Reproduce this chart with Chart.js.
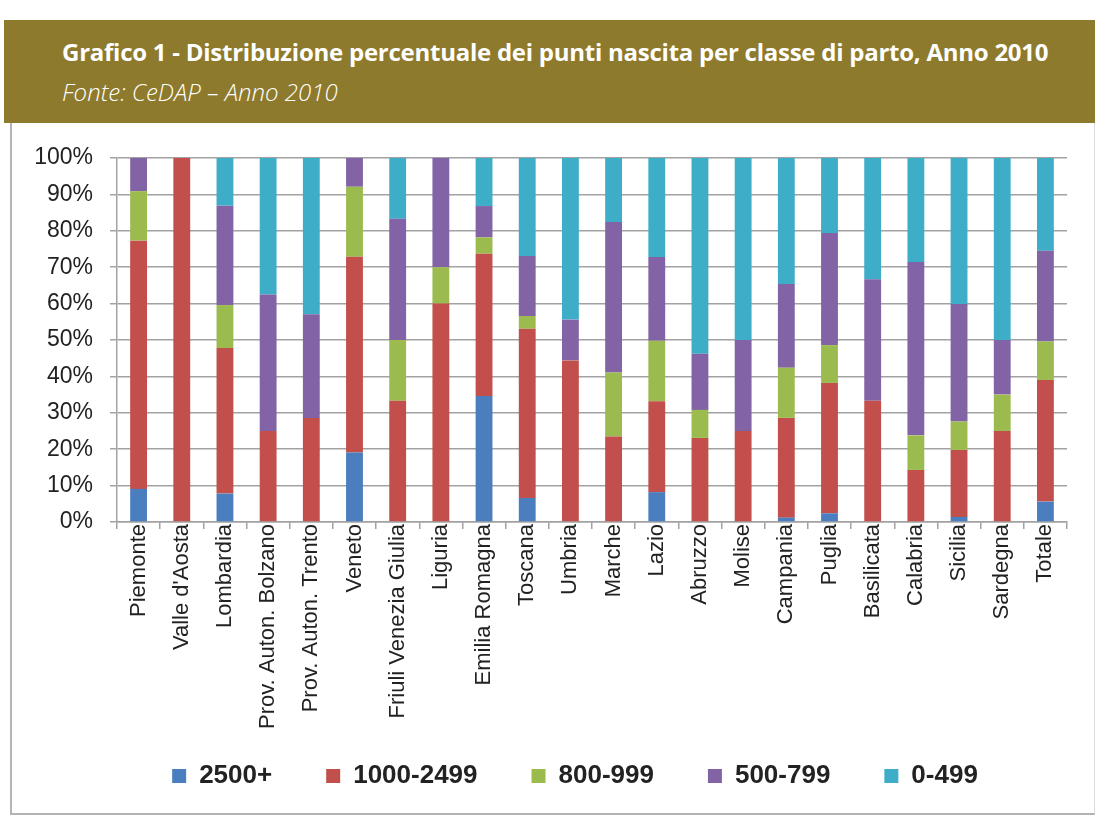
<!DOCTYPE html>
<html>
<head>
<meta charset="utf-8">
<script src="https://cdn.jsdelivr.net/npm/chart.js@4"></script>
<style>
    body { margin: 0; background: #fff; }
    #wrap { position: relative; width: 1095px; height: 817px; overflow: hidden; }
    #header { position: absolute; left: 4px; top: 20px; width: 1091px; height: 103px; background: #8E7A2C; color: #fff; }
    #title { position: absolute; left: 58px; top: 15px; font-family: "Open Sans", sans-serif; font-weight: 700; font-size: 24px; white-space: nowrap; letter-spacing: -0.25px; }
    #subtitle { position: absolute; left: 58px; top: 55px; font-family: "Open Sans", sans-serif; font-style: italic; font-weight: 300; font-size: 24px; white-space: nowrap; }
    #box { position: absolute; left: 10px; top: 123px; width: 1082px; height: 690px; border-left: 2px solid #b4b4b4; border-right: 1px solid #dcdcdc; border-bottom: 2px solid #b4b4b4; }
    #chart { position: absolute; left: 0; top: 0; }
</style>
</head>
<body>
<div id="wrap">
    <div id="header">
        <div id="title">Grafico 1 - Distribuzione percentuale dei punti nascita per classe di parto, Anno 2010</div>
        <div id="subtitle">Fonte: CeDAP – Anno 2010</div>
    </div>
    <div id="box"></div>
    <canvas id="chart" width="1095" height="817"></canvas>
</div>
<script>
const regions = ['Piemonte', "Valle d'Aosta", 'Lombardia', 'Prov. Auton. Bolzano', 'Prov. Auton. Trento',
    'Veneto', 'Friuli Venezia Giulia', 'Liguria', 'Emilia Romagna', 'Toscana', 'Umbria', 'Marche',
    'Lazio', 'Abruzzo', 'Molise', 'Campania', 'Puglia', 'Basilicata', 'Calabria', 'Sicilia',
    'Sardegna', 'Totale'];

// percent of birth points per class
const over2500 = [9.1, 0, 7.8, 0, 0, 19.1, 0, 0, 34.6, 6.6, 0, 0, 8.2, 0, 0, 1.2, 2.4, 0, 0, 1.4, 0, 5.6];
const from1000 = [68.2, 100, 40.0, 25.0, 28.6, 53.8, 33.3, 60.0, 39.1, 46.5, 44.4, 23.5, 25.0, 23.1, 25.0, 27.4, 35.8, 33.3, 14.3, 18.4, 25.0, 33.4];
const from800 = [13.6, 0, 11.8, 0, 0, 19.2, 16.7, 10.0, 4.5, 3.5, 0, 17.6, 16.6, 7.7, 0, 13.8, 10.4, 0, 9.5, 7.8, 10.0, 10.6];
const from500 = [9.1, 0, 27.3, 37.5, 28.5, 7.9, 33.3, 30.0, 8.6, 16.5, 11.2, 41.3, 23.0, 15.4, 25.0, 23.0, 30.8, 33.4, 47.6, 32.3, 15.0, 24.9];
const under500 = [0, 0, 13.1, 37.5, 42.9, 0, 16.7, 0, 13.2, 26.9, 44.4, 17.6, 27.2, 53.8, 50.0, 34.6, 20.6, 33.3, 28.6, 40.1, 50.0, 25.5];

const classLabels = ['2500+', '1000-2499', '800-999', '500-799', '0-499'];
const colors = ['#4A7EBF', '#C24F4B', '#9BBB4F', '#8264A6', '#3DADC8'];
const yTicks = [0, 10, 20, 30, 40, 50, 60, 70, 80, 90, 100];

const series = [over2500, from1000, from800, from500, under500];
const gridColor = '#a2a2a2';

// move the legend where the original has it (centred a bit right, below the labels)
const legendPlace = {
    id: 'legendPlace',
    afterLayout(chart) {
        const lg = chart.legend;
        lg.left += 29;
        lg.right += 29;
        lg.top = 709;
        lg.height = 106;
        lg.bottom = 709 + 106;
    }
};

const ctx = document.getElementById('chart').getContext('2d');
const myChart = new Chart(ctx, {
    type: 'bar',
    data: {
        labels: regions,
        datasets: series.map((values, i) => ({
            label: classLabels[i],
            data: values,
            backgroundColor: colors[i],
            borderWidth: 0,
            categoryPercentage: 1,
            barPercentage: 0.39
        }))
    },
    options: {
        responsive: false,
        animation: false,
        layout: {
            padding: { left: 25, right: 28, top: 158, bottom: 10 }
        },
        plugins: {
            tooltip: { enabled: false },
            legend: {
                position: 'bottom',
                maxHeight: 55,
                labels: {
                    boxWidth: 14,
                    boxHeight: 14,
                    padding: 54,
                    color: '#222',
                    font: { family: 'Liberation Sans, Arial, sans-serif', size: 26, weight: 'bold' }
                }
            }
        },
        scales: {
            x: {
                stacked: true,
                afterFit: (scale) => { scale.height = 230; },
                grid: {
                    drawOnChartArea: false,
                    drawTicks: true,
                    tickLength: 7,
                    color: gridColor,
                    lineWidth: 1.5
                },
                border: { display: true, color: gridColor, width: 1.5 },
                ticks: {
                    autoSkip: false,
                    minRotation: 90,
                    maxRotation: 90,
                    padding: -5,
                    color: '#222',
                    font: { family: 'Liberation Sans, Arial, sans-serif', size: 22 }
                }
            },
            y: {
                stacked: true,
                min: 0,
                max: 100,
                afterFit: (scale) => { scale.width = 92; },
                afterBuildTicks: (scale) => { scale.ticks = yTicks.map(v => ({ value: v })); },
                grid: {
                    color: gridColor,
                    lineWidth: 1.5,
                    tickLength: 7
                },
                border: { display: true, color: gridColor, width: 1.5 },
                ticks: {
                    padding: 17,
                    color: '#222',
                    font: { family: 'Liberation Sans, Arial, sans-serif', size: 23 },
                    callback: (v) => v + '%'
                }
            }
        }
    },
    plugins: [legendPlace]
});
</script>
</body>
</html>
